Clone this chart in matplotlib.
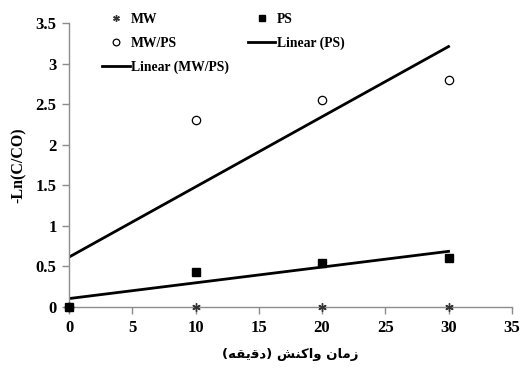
import matplotlib.pyplot as plt
import numpy as np
from matplotlib.ticker import FuncFormatter

plt.rcParams["font.family"] = ["Liberation Serif", "DejaVu Serif"]
plt.rcParams["font.weight"] = "bold"

# data
time_min = [0, 10, 20, 30]
mw = [0, 0, 0, 0]
ps = [0, 0.43, 0.54, 0.61]
mw_ps = [0, 2.3, 2.55, 2.8]

x_ticks = [0, 5, 10, 15, 20, 25, 30, 35]
y_ticks = [0, 0.5, 1, 1.5, 2, 2.5, 3, 3.5]

# "زمان واکنش (دقیقه)" pre-shaped in visual order (matplotlib does no Arabic shaping)
xlabel_visual = ("(\uFEEA\uFED8\uFBFE\uFED7\uFEA9) "
                 "\uFEB6\uFEE8\uFB90\uFE8D\uFEED "
                 "\uFEE5\uFE8E\uFEE3\uFEAF")

fig = plt.figure(figsize=(5.24, 3.76), dpi=100)
ax = fig.add_axes([0.1317, 0.1835, 0.845, 0.7553])

x = np.array(time_min)
fit_ps = np.polyfit(x, ps, 1)
fit_mwps = np.polyfit(x, mw_ps, 1)

h_mw, = ax.plot(time_min, mw, linestyle="none", marker=(6, 2, 0),
                markersize=6, color="#333333", mew=1.0, clip_on=False,
                zorder=3, label="MW")
h_mwps, = ax.plot(time_min, mw_ps, linestyle="none", marker="o",
                  markersize=6, mfc="white", mec="black", mew=0.9,
                  clip_on=False, zorder=4, label="MW/PS")
h_ps, = ax.plot(time_min, ps, linestyle="none", marker="s", markersize=6,
                color="black", clip_on=False, zorder=5, label="PS")
h_lps, = ax.plot(x, np.polyval(fit_ps, x), color="black", lw=2,
                 label="Linear (PS)")
h_lmwps, = ax.plot(x, np.polyval(fit_mwps, x), color="black", lw=2,
                   label="Linear (MW/PS)")

ax.set_xlim(0, 35)
ax.set_ylim(0, 3.5)
ax.set_xticks(x_ticks)
ax.set_yticks(y_ticks)
ax.yaxis.set_major_formatter(FuncFormatter(lambda v, p: f"{v:g}"))

for side in ("top", "right"):
    ax.spines[side].set_visible(False)
for side in ("left", "bottom"):
    ax.spines[side].set_color("#8c8c8c")
    ax.spines[side].set_linewidth(1.0)
ax.tick_params(direction="out", length=5, width=1, color="#8c8c8c",
               labelsize=12, pad=4)

ax.set_ylabel("-Ln(C/CO)", fontsize=11.5, fontweight="bold", labelpad=6)
ax.set_xlabel(xlabel_visual, fontsize=9.5, fontweight="bold",
              family=["DejaVu Sans"], labelpad=9)

ax.legend([h_mw, h_mwps, h_lmwps, h_ps, h_lps],
          ["MW", "MW/PS", "Linear (MW/PS)", "PS", "Linear (PS)"],
          ncol=2, frameon=False, fontsize=9.8, loc="upper left",
          bbox_to_anchor=(0.172, 0.998), bbox_transform=fig.transFigure,
          labelspacing=0.8, columnspacing=1.4, handlelength=2.0,
          handletextpad=0.1, markerscale=0.8)

fig.savefig("out.png", dpi=100)
